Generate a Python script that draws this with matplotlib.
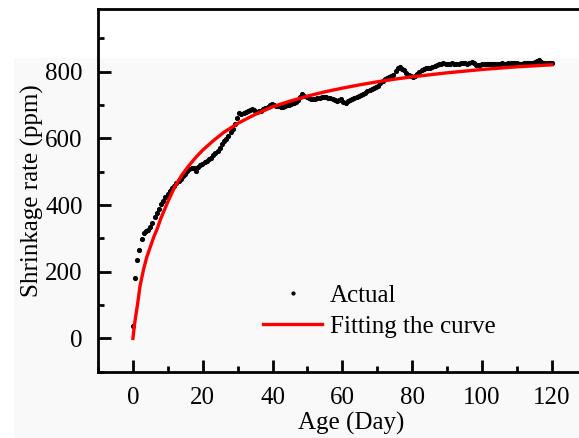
import numpy as np
import matplotlib
matplotlib.use("Agg")
import matplotlib.pyplot as plt
from matplotlib.patches import Rectangle
from matplotlib.ticker import MultipleLocator

# ---- data ----
shrinkage = [
    38, 180, 235, 265, 298, 316, 323, 326, 333, 346, 363, 376, 389, 403, 413, 424, 433, 442, 451, 458, 466, 471,
    478, 488, 494, 502, 507, 510, 512, 501, 515, 520, 524, 528, 533, 538, 542, 549, 556, 563, 572, 582, 591, 599,
    608, 618, 629, 642, 660, 675, 672, 676, 679, 683, 686, 688, 684, 680, 681, 683, 688, 691, 695, 700, 703, 699,
    697, 696, 695, 695, 697, 699, 699, 702, 706, 710, 716, 724, 732, 728, 725, 722, 719, 717, 718, 721, 722, 723,
    725, 725, 722, 720, 719, 716, 712, 715, 717, 710, 707, 711, 715, 718, 721, 723, 726, 730, 733, 737, 742, 744,
    747, 751, 755, 758, 765, 772, 777, 782, 784, 786, 790, 803, 810, 814, 809, 804, 797, 791, 786, 784, 788, 794,
    800, 806, 808, 810, 811, 812, 814, 817, 820, 822, 824, 825, 823, 822, 824, 825, 823, 822, 824, 827, 827, 825,
    824, 827, 830, 826, 821, 820, 821, 822, 822, 822, 823, 823, 824, 824, 824, 824, 825, 824, 824, 825, 826, 827,
    826, 825, 824, 824, 825, 826, 827, 827, 827, 828, 831, 834, 830, 827, 827, 827, 827, 826,
]
age_days = np.linspace(0, 120, len(shrinkage))  # regular sampling of the measurements

fit_age = [0, 0.5, 1, 1.5, 2, 3, 4, 5, 6, 7, 8, 9, 10, 12, 14, 16, 18, 20, 23, 26, 30, 35, 40, 45, 50,
           55, 60, 65, 70, 75, 80, 85, 90, 95, 100, 105, 110, 115, 120]
fit_value = [0, 45, 80, 115, 155, 205, 245, 275, 305, 330, 360, 385, 410, 455, 490, 518, 543, 565, 593, 618,
             645, 672, 695, 712, 727, 740, 751, 761, 770, 778, 785, 791, 797, 802, 807, 811, 815, 818, 821]

x_ticks = [0, 20, 40, 60, 80, 100, 120]
y_ticks = [0, 200, 400, 600, 800]

plt.rcParams['font.family'] = ['Liberation Serif', 'DejaVu Serif']

FS = 18
W, H = 579, 438
fig = plt.figure(figsize=(W / 100, H / 100), dpi=100, facecolor='white')
fig.patches.append(Rectangle((14 / W, 0), 1, (H - 58) / H, transform=fig.transFigure,
                             facecolor='#f9f9f9', edgecolor='none', zorder=-10))

left, right = 98, 586.8
top, bottom = 9.5, 372
ax = fig.add_axes([left / W, 1 - bottom / H, (right - left) / W, (bottom - top) / H])
ax.set_facecolor('none')

ax.plot(age_days, shrinkage, linestyle='none', marker='o', markersize=2.7,
        color='black', label='Actual', zorder=3)
ax.plot(fit_age, fit_value, color='#ff0000', linewidth=2.4, label='Fitting the curve', zorder=4)

ax.set_xlim(-10, 130)
ax.set_ylim(-101, 987)
ax.set_xticks(x_ticks)
ax.set_yticks(y_ticks)
ax.xaxis.set_minor_locator(MultipleLocator(10))
ax.yaxis.set_minor_locator(MultipleLocator(100))

for s in ['left', 'bottom', 'top', 'right']:
    ax.spines[s].set_linewidth(2.0)
ax.tick_params(which='both', direction='in', top=False, right=False, width=2.0, labelsize=FS)
ax.tick_params(which='major', length=9)
ax.tick_params(which='minor', length=4.5)
ax.tick_params(axis='x', which='major', pad=11)
ax.tick_params(axis='y', which='major', pad=11)

ax.set_xlabel('Age (Day)', fontsize=FS, labelpad=2)
ax.xaxis.label.set_x(0.517)
ax.set_ylabel('Shrinkage rate (ppm)', fontsize=FS, labelpad=1)

leg = ax.legend(loc='upper left', bbox_to_anchor=((263 - left) / (right - left), 1 - (284 - top) / (bottom - top)),
                frameon=False, fontsize=FS, handlelength=2.36, handletextpad=0.3,
                labelspacing=0.35, markerscale=0.75, borderpad=0, borderaxespad=0)

fig.savefig('out.png', dpi=100, facecolor=fig.get_facecolor())
